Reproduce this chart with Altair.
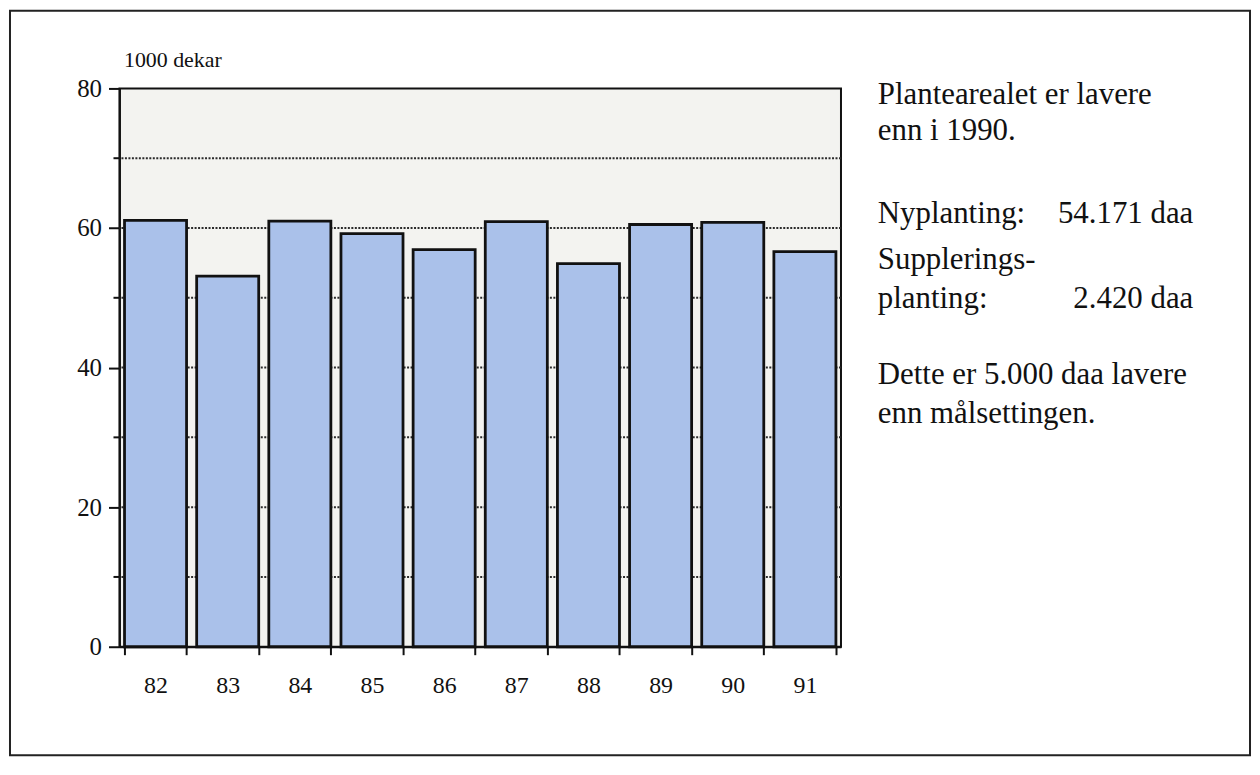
import altair as alt
import pandas as pd

# ---- data ----
years = ["82", "83", "84", "85", "86", "87", "88", "89", "90", "91"]
values = [61.1, 53.1, 61.0, 59.2, 56.9, 60.9, 54.9, 60.5, 60.8, 56.6]
y_major = [0, 20, 40, 60, 80]
y_minor = [10, 30, 50, 70]
y_grid = [10, 20, 30, 40, 50, 60, 70]
y_unit = "1000 dekar"
note_left = ["Plantearealet er lavere", "enn i 1990.", "Nyplanting:", "Supplerings-",
             "planting:", "Dette er 5.000 daa lavere", "enn målsettingen."]
note_right = ["54.171 daa", "2.420 daa"]

FONT = "Liberation Serif"
W, H = 725, 561

df = pd.DataFrame({"year": years, "value": values})

yscale = alt.Scale(domain=[0, 80], nice=False, zero=True)


def yaxis():
    return alt.Axis(values=y_major, title=y_unit, titleAngle=0, titleX=4,
                    titleY=-22, titleAlign="left", titleBaseline="alphabetic",
                    titleFont=FONT, titleFontSize=22, titleFontWeight="normal",
                    titleColor="#111111", labelFont=FONT, labelFontSize=25,
                    labelColor="#111111", labelPadding=7, tickSize=11,
                    tickWidth=2, tickColor="#111111", domainColor="#111111",
                    domainWidth=2, grid=False)


grid = alt.Chart(pd.DataFrame({"v": y_grid})).mark_rule(
    color="#2a2a2a", strokeWidth=2, strokeDash=[2, 1.5]
).encode(y=alt.Y("v:Q", scale=yscale, axis=yaxis()))

bars = alt.Chart(df).mark_bar(
    color="#aac1ea", stroke="#111111", strokeWidth=2.8
).encode(
    x=alt.X("year:O", sort=years,
            scale=alt.Scale(paddingInner=0.14, paddingOuter=0.07),
            axis=alt.Axis(title=None, labelAngle=0, tickBand="extent", tickSize=8,
                          tickWidth=2, tickColor="#111111", domainColor="#111111",
                          domainWidth=2, labelFont=FONT, labelFontSize=24,
                          labelColor="#111111", labelPadding=19, grid=False)),
    y=alt.Y("value:Q", scale=yscale, axis=yaxis()),
)

minor = alt.Chart(pd.DataFrame({"v": y_minor})).mark_rule(
    color="#111111", strokeWidth=2
).encode(y=alt.Y("v:Q", scale=yscale, axis=yaxis()), x=alt.value(-6), x2=alt.value(0))

layers = [grid, bars, minor]

left_y = [7, 43, 126, 172, 212, 288, 327]
for t, yy in zip(note_left, left_y):
    layers.append(
        alt.Chart(pd.DataFrame({"t": [t]})).mark_text(
            font=FONT, fontSize=31, align="left", baseline="middle", color="#111111"
        ).encode(text="t:N", x=alt.value(762), y=alt.value(yy))
    )
right_y = [126, 212]
for t, yy in zip(note_right, right_y):
    layers.append(
        alt.Chart(pd.DataFrame({"t": [t]})).mark_text(
            font=FONT, fontSize=31, align="right", baseline="middle", color="#111111"
        ).encode(text="t:N", x=alt.value(1079), y=alt.value(yy))
    )

border = alt.Chart(pd.DataFrame({"b": [1]})).mark_rect(
    fill=None, stroke="#222222", strokeWidth=2
).encode(x=alt.value(-110), x2=alt.value(1136), y=alt.value(-78), y2=alt.value(670))
layers.append(border)

chart = alt.layer(*layers).properties(
    width=W, height=H,
    autosize=alt.AutoSizeParams(type="none"),
    padding={"left": 112, "top": 79, "right": 413, "bottom": 112},
    background="white",
).configure_view(
    fill="#f3f3f0", stroke="#111111", strokeWidth=2
)

chart.save("out.html", embed_options={"renderer": "svg", "actions": False})
